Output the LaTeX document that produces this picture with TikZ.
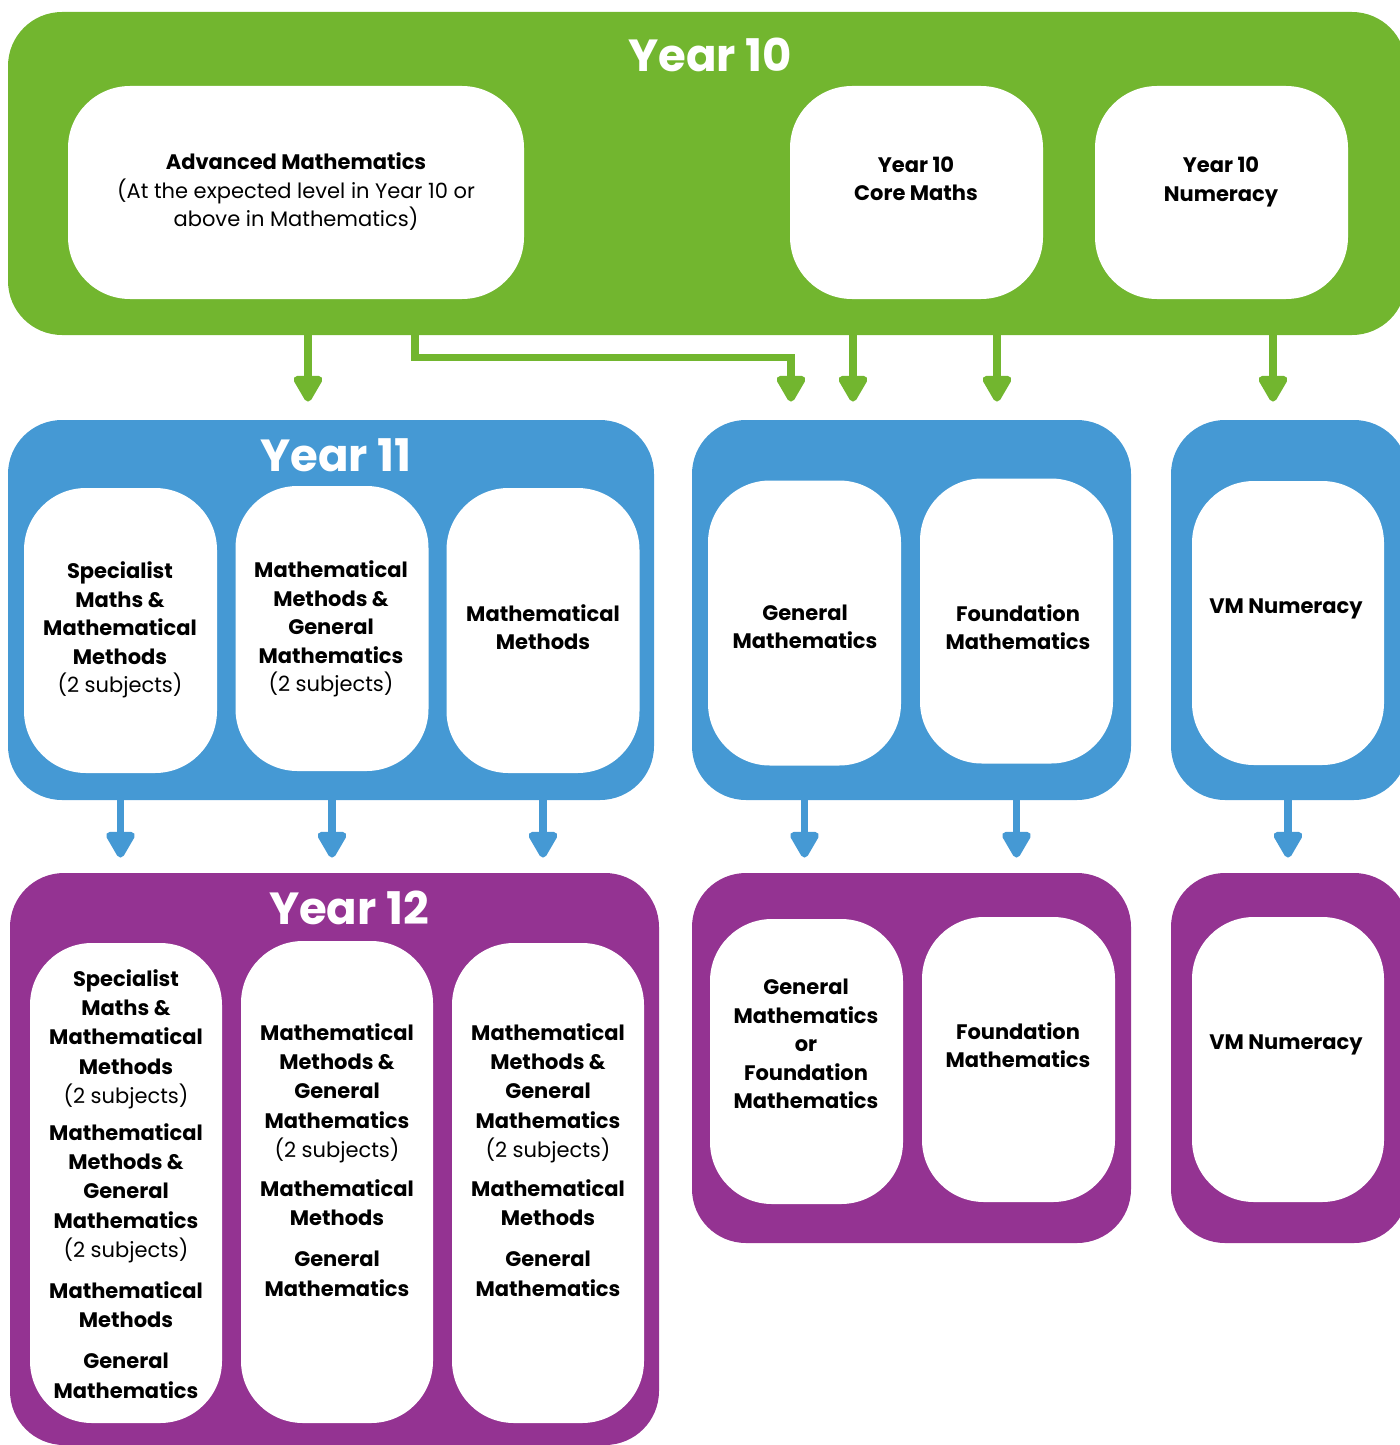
\documentclass[tikz,border=0pt]{standalone}
\usepackage{fontspec}
\setmainfont{Poppins}
\usetikzlibrary{arrows.meta}
\definecolor{yrgreen}{RGB}{114,182,47}
\definecolor{yrblue}{RGB}{69,153,212}
\definecolor{yrpurple}{RGB}{148,51,146}

\tikzset{
  panel/.style 2 args={rectangle, rounded corners=27pt, inner sep=0pt, minimum width=#1, minimum height=#2},
  card/.style 2 args={rectangle, fill=white, rounded corners=31pt, inner sep=0pt, minimum width=#1, minimum height=#2},
  txt/.style={align=center, inner sep=0pt, text=black, font=\fontsize{10.5}{14.25}\selectfont\bfseries},
  longtxt/.style={txt, font=\fontsize{10.5}{14.6}\selectfont\bfseries},
  yeartitle/.style={text=white, inner sep=0pt, font=\fontsize{22.5}{27}\selectfont\bfseries},
  garrow/.style={draw=yrgreen, line width=3.75pt, -{Triangle[width=16pt,length=15pt,round]}, shorten >=9pt},
  barrow/.style={draw=yrblue, line width=3.75pt, -{Triangle[width=16pt,length=15pt,round]}, shorten >=7.5pt}
}

\begin{document}
\begin{tikzpicture}[x=0.5pt, y=-0.5pt]
    \clip (0,0) rectangle (1400,1445);

    % Year 10
    \node[panel={699pt}{161.5pt}, fill=yrgreen] (y10) at (707,173.5) {};
    \node[yeartitle] (t10) at (710,55) {Year 10};
    \node[card={228pt}{106.5pt}] (adv) at (296,192.5) {};
    \node[card={126.5pt}{106.5pt}] (core) at (916.5,192.5) {};
    \node[card={126.5pt}{106.5pt}] (num) at (1221.5,192.5) {};
    \node[txt] (advtxt) at (296,192) {Advanced Mathematics\\{\mdseries (At the expected level in Year 10 or}\\{\mdseries above in Mathematics)}};
    \node[txt] (coretxt) at (916,179) {Year 10\\Core Maths};
    \node[txt] (numtxt) at (1221,182) {Year 10\\Numeracy};

    % Year 11
    \node[panel={323pt}{190pt}, fill=yrblue] (y11) at (331,610) {};
    \node[panel={219.5pt}{190pt}, fill=yrblue] (y11b) at (911.5,610) {};
    \node[panel={118.5pt}{190pt}, fill=yrblue] (y11c) at (1289.5,610) {};
    \node[yeartitle] (t11) at (336,455) {Year 11};
    \node[card={96.5pt}{142.5pt}] (sa) at (120.5,630.5) {};
    \node[card={96.5pt}{142.5pt}] (sb) at (332,628.5) {};
    \node[card={96.5pt}{142.5pt}] (sc) at (543,630.5) {};
    \node[card={96.5pt}{142.5pt}] (sd) at (804.5,623) {};
    \node[card={96.5pt}{142.5pt}] (se) at (1016.5,621) {};
    \node[card={96pt}{142pt}] (sf) at (1288,623) {};
    \node[txt] (satxt) at (120,630) {Specialist\\Maths \&\\Mathematical\\Methods\\{\mdseries (2 subjects)}};
    \node[txt] (sbtxt) at (331,629) {Mathematical\\Methods \&\\General\\Mathematics\\{\mdseries (2 subjects)}};
    \node[txt] (sctxt) at (543,627) {Mathematical\\Methods};
    \node[txt] (sdtxt) at (805,627) {General\\Mathematics};
    \node[txt] (setxt) at (1018,627) {Foundation\\Mathematics};
    \node[txt] (sftxt) at (1286,609) {VM Numeracy};

    % Year 12
    \node[panel={324.5pt}{286pt}, fill=yrpurple] (y12) at (334.5,1159) {};
    \node[panel={219.5pt}{185pt}, fill=yrpurple] (y12b) at (911.5,1058) {};
    \node[panel={118.5pt}{185pt}, fill=yrpurple] (y12c) at (1289.5,1058) {};
    \node[yeartitle] (t12) at (349,908) {Year 12};
    \node[card={96pt}{240pt}] (ua) at (126,1183) {};
    \node[card={96pt}{241pt}] (ub) at (337,1182) {};
    \node[card={96pt}{240pt}] (uc) at (548,1183) {};
    \node[card={96.5pt}{142.5pt}] (ud) at (806.5,1061.5) {};
    \node[card={96.5pt}{142.5pt}] (ue) at (1018.5,1059.5) {};
    \node[card={96pt}{142.5pt}] (uf) at (1288,1059.5) {};
    \node[longtxt] (uatxt) at (126,1184) {Specialist\\Maths \&\\Mathematical\\Methods\\{\mdseries (2 subjects)}\\[4pt]Mathematical\\Methods \&\\General\\Mathematics\\{\mdseries (2 subjects)}\\[6pt]Mathematical\\Methods\\[6pt]General\\Mathematics};
    \node[longtxt] (ubtxt) at (337,1160) {Mathematical\\Methods \&\\General\\Mathematics\\{\mdseries (2 subjects)}\\[5pt]Mathematical\\Methods\\[6pt]General\\Mathematics};
    \node[longtxt] (uctxt) at (548,1160) {Mathematical\\Methods \&\\General\\Mathematics\\{\mdseries (2 subjects)}\\[5pt]Mathematical\\Methods\\[6pt]General\\Mathematics};
    \node[txt] (udtxt) at (806,1044) {General\\Mathematics\\or\\Foundation\\Mathematics};
    \node[txt] (uetxt) at (1018,1045) {Foundation\\Mathematics};
    \node[txt] (uftxt) at (1286,1045) {VM Numeracy};

    % green arrows
    \coordinate (ga) at (308,0);
    \coordinate (gb) at (415,0);
    \coordinate (gc) at (791,0);
    \coordinate (gd) at (853,0);
    \coordinate (ge) at (997,0);
    \coordinate (gf) at (1273,0);
    \draw[garrow] (y10.south -| ga) -- (y11.north -| ga);
    \draw[garrow] (y10.south -| gb) -- ++(0,22) -| (y11b.north -| gc);
    \draw[garrow] (y10.south -| gd) -- (y11b.north -| gd);
    \draw[garrow] (y10.south -| ge) -- (y11b.north -| ge);
    \draw[garrow] (y10.south -| gf) -- (y11c.north -| gf);

    % blue arrows
    \draw[barrow] (y11.south -| sa) -- (y12.north -| sa);
    \draw[barrow] (y11.south -| sb) -- (y12.north -| sb);
    \draw[barrow] (y11.south -| sc) -- (y12.north -| sc);
    \draw[barrow] (y11b.south -| sd) -- (y12b.north -| sd);
    \draw[barrow] (y11b.south -| se) -- (y12b.north -| se);
    \draw[barrow] (y11c.south -| sf) -- (y12c.north -| sf);
\end{tikzpicture}
\end{document}
